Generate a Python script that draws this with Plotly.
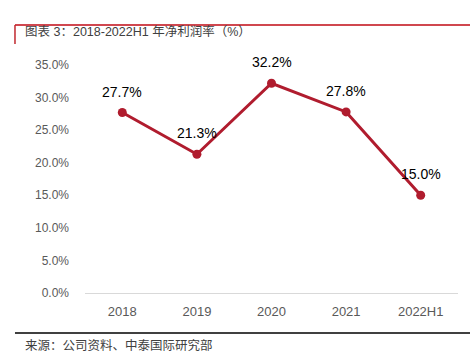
import plotly.graph_objects as go

categories = ["2018", "2019", "2020", "2021", "2022H1"]
net_margin = [27.7, 21.3, 32.2, 27.8, 15.0]
y_ticks = [0, 5, 10, 15, 20, 25, 30, 35]
y_tick_labels = ["0.0%", "5.0%", "10.0%", "15.0%", "20.0%", "25.0%", "30.0%", "35.0%"]
title_text = "图表 3：2018-2022H1 年净利润率（%）"
source_text = "来源：公司资料、中泰国际研究部"

red = "#B01C2E"
font_family = "Liberation Sans, Noto Sans CJK SC, sans-serif"

fig = go.Figure()
fig.add_trace(go.Scatter(
    x=categories, y=net_margin,
    mode="lines+markers",
    line=dict(color=red, width=3),
    marker=dict(color=red, size=9),
    cliponaxis=False,
    hoverinfo="skip",
))

annotations = [
    dict(x=i, y=v, xref="x", yref="y", text=f"{v:.1f}%", showarrow=False,
         yshift=21, xanchor="center", yanchor="middle",
         font=dict(size=14, color="#000000", family=font_family))
    for i, v in enumerate(net_margin)
]
annotations += [
    dict(text=title_text, xref="paper", yref="paper", x=-0.166, y=1.145,
         xanchor="left", yanchor="middle", showarrow=False,
         font=dict(size=12.5, color="#404040", family=font_family)),
    dict(text=source_text, xref="paper", yref="paper", x=-0.166, y=-0.232,
         xanchor="left", yanchor="middle", showarrow=False,
         font=dict(size=12.5, color="#404040", family=font_family)),
]

fig.update_layout(
    width=470, height=357,
    margin=dict(l=85, r=12, t=65, b=64),
    paper_bgcolor="white", plot_bgcolor="white",
    showlegend=False,
    font=dict(family=font_family),
    xaxis=dict(
        type="category", range=[-0.5, 4.5],
        showgrid=False, showline=True, linecolor="#D9D9D9", linewidth=1,
        ticks="", tickfont=dict(size=13, color="#595959"), ticklabelstandoff=6,
        fixedrange=True,
    ),
    yaxis=dict(
        range=[0, 35], tickvals=y_ticks, ticktext=y_tick_labels,
        showgrid=False, showline=False, zeroline=False,
        ticks="", tickfont=dict(size=12, color="#595959"), ticklabelstandoff=15,
        fixedrange=True,
    ),
    shapes=[
        dict(type="line", xref="paper", yref="paper", x0=-0.1877, x1=1.04, y0=1.175, y1=1.175,
             line=dict(color="#D0474F", width=2)),
        dict(type="line", xref="paper", yref="paper", x0=-0.1877, x1=-0.1877, y0=1.175, y1=1.092,
             line=dict(color="#C0282F", width=1.5)),
        dict(type="line", xref="paper", yref="paper", x0=-0.1877, x1=1.04, y0=-0.175, y1=-0.175,
             line=dict(color="#404040", width=2)),
    ],
    annotations=annotations,
)

fig.write_html("out.html", config={"displayModeBar": False},
               post_script="document.body.style.margin='0';")
